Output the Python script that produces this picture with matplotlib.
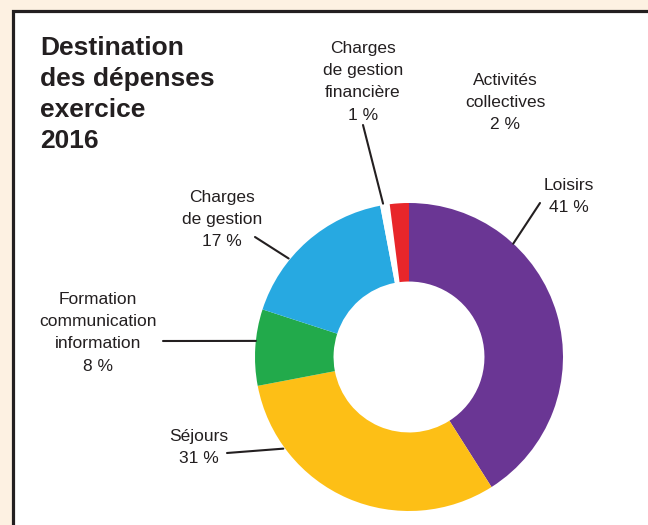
import numpy as np
import matplotlib
matplotlib.use('Agg')
import matplotlib.pyplot as plt
from matplotlib.patches import Rectangle

plt.rcParams['font.family'] = ['Liberation Sans', 'DejaVu Sans']

# data (clockwise from 12 o'clock)
labels = ['Loisirs\n41 %', 'Séjours\n31 %',
          'Formation\ncommunication\ninformation\n8 %',
          'Charges\nde gestion\n17 %',
          'Charges\nde gestion\nfinancière\n1 %',
          'Activités\ncollectives\n2 %']
values = [41, 31, 8, 17, 1, 2]
colors = ['#6a3694', '#fdbf16', '#22aa4b', '#27a9e1', '#ffffff', '#e8262a']

# label placement (image pixels: text centre x, text top y) and leader-line
# anchor on the ring (angle in degrees, radius) + line start (image pixels)
label_pos = [(569, 178), (199, 429), (98, 292), (222, 190), (363, 41), (505, 73)]
anchor = [(47.4, 1.0), (216.1, 1.01), (174.0, 1.0), (140.7, 1.01), (99.6, 1.01), (92.2, 1.01)]
line_start = [(540, 203), (227, 453), (163, 341), (255, 237), (363, 125), (477, 133)]

W, H = 648, 525
fig = plt.figure(figsize=(W / 100, H / 100), dpi=100)
fig.patch.set_facecolor('#fdf1e2')

frame = Rectangle((13 / W, -0.05), 2, (H - 11) / H + 0.05, transform=fig.transFigure,
                  facecolor='white', edgecolor='#231f20', lw=2.3, zorder=-1)
fig.add_artist(frame)

cx, cy, R = 409, 357, 154
ax = fig.add_axes([(cx - R) / W, (H - cy - R) / H, 2 * R / W, 2 * R / H])
ax.pie(values, colors=colors, startangle=90, counterclock=False, radius=1,
       wedgeprops=dict(width=0.51, edgecolor='none'))
ax.set_xlim(-1, 1)
ax.set_ylim(-1, 1)
ax.set_aspect('equal')
ax.axis('off')


def fx(x):
    return x / W


def fy(y):
    return 1 - y / H


for lab, (tx, ty), (ang, r), (sx, sy) in zip(labels, label_pos, anchor, line_start):
    fig.text(fx(tx), fy(ty), lab, ha='center', va='top', fontsize=12.5,
             color='#231f20', linespacing=1.6)
    a = np.deg2rad(ang)
    ax.annotate('', xy=(r * np.cos(a), r * np.sin(a)), xycoords='data',
                xytext=(fx(sx), fy(sy)), textcoords='figure fraction',
                arrowprops=dict(arrowstyle='-', lw=1.5, color='#231f20',
                                shrinkA=0, shrinkB=0))

fig.text(fx(40), fy(36), 'Destination\ndes dépenses\nexercice\n2016', ha='left', va='top',
         fontsize=19, fontweight='bold', color='#231f20', linespacing=1.36)

fig.savefig('out.png', dpi=100, facecolor=fig.get_facecolor())
